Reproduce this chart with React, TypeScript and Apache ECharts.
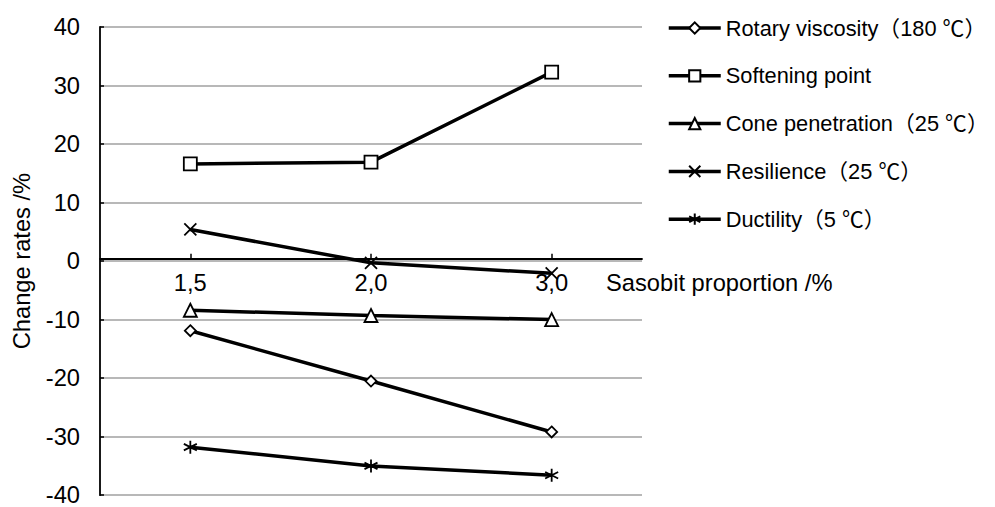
import React, { useEffect, useRef } from "react";
import * as echarts from "echarts";

const categories = ["1,5", "2,0", "3,0"];
const rotaryViscosity = [-11.9, -20.5, -29.2];
const softeningPoint = [16.6, 16.9, 32.3];
const conePenetration = [-8.4, -9.3, -10.0];
const resilience = [5.4, -0.3, -2.1];
const ductility = [-31.8, -35.0, -36.6];

const seriesNames = [
  "Rotary viscosity（180 ℃）",
  "Softening point",
  "Cone penetration（25 ℃）",
  "Resilience（25 ℃）",
  "Ductility（5 ℃）",
];

const FONT = "'Liberation Sans', Arial, 'Noto Sans CJK SC', sans-serif";
const FS = 23.7;
const LFS = 21.8;

export default function App() {
  const ref = useRef<HTMLDivElement>(null);
  useEffect(() => {
    if (!ref.current) return;
    const chart = echarts.init(ref.current, null, { renderer: "svg" });
    const mk = (
      name: string,
      data: number[],
      symbol: string,
      size: number
    ) => ({
      name,
      type: "line",
      data,
      symbol,
      symbolSize: size,
      showSymbol: true,
      lineStyle: { color: "#000", width: 3.5 },
      itemStyle: { color: "#fff", borderColor: "#000", borderWidth: 1.8 },
      z: 3,
    });
    chart.setOption({
      animation: false,
      textStyle: { fontFamily: FONT },
      grid: { left: 100, top: 27, right: 353, bottom: 7, containLabel: false },
      legend: {
        orient: "vertical",
        left: 662,
        top: 11,
        itemWidth: 52,
        itemHeight: 14,
        itemGap: 23.8,
        lineStyle: { width: 3.5, color: "#000" },
        textStyle: { fontSize: LFS, color: "#000", fontFamily: FONT, lineHeight: 24 },
        data: seriesNames,
      },
      xAxis: {
        type: "category",
        data: categories,
        boundaryGap: true,
        position: "bottom",
        offset: -236.5,
        name: "Sasobit proportion /%",
        nameLocation: "end",
        nameGap: -36,
        nameTextStyle: {
          fontSize: FS,
          color: "#000",
          fontFamily: FONT,
          align: "left",
          verticalAlign: "top",
          padding: [13, 0, 0, 0],
        },
        axisLine: { onZero: false, lineStyle: { color: "#000", width: 1.8 } },
        axisTick: { show: true, inside: true, alignWithLabel: true, length: 5, lineStyle: { color: "#000", width: 1.5 } },
        axisLabel: { fontSize: FS, color: "#000", margin: 12, fontFamily: FONT },
        splitLine: { show: false },
      },
      yAxis: {
        type: "value",
        min: -40,
        max: 40,
        interval: 10,
        name: "Change rates /%",
        nameLocation: "middle",
        nameGap: 66,
        nameRotate: 90,
        nameTextStyle: { fontSize: FS, color: "#000", fontFamily: FONT },
        axisLine: { show: true, lineStyle: { color: "#000", width: 1.8 } },
        axisTick: { show: true, inside: true, length: 4, lineStyle: { color: "#000", width: 1.5 } },
        axisLabel: { fontSize: FS, color: "#000", margin: 20, fontFamily: FONT },
        splitLine: { show: true, lineStyle: { color: "#a0a0a0", width: 1.5 } },
      },
      series: [
        mk(seriesNames[0], rotaryViscosity, "diamond", 11),
        mk(seriesNames[1], softeningPoint, "rect", 13),
        mk(seriesNames[2], conePenetration, "triangle", 13),
        mk(seriesNames[3], resilience, "path://M0,0L10,10M10,0L0,10", 12),
        mk(seriesNames[4], ductility, "path://M5,0L5,10M0.7,2.5L9.3,7.5M9.3,2.5L0.7,7.5", 13),
      ],
    });
    return () => chart.dispose();
  }, []);
  return (
    <div
      ref={ref}
      style={{ position: "absolute", left: 0, top: 0, width: 995, height: 507 }}
    />
  );
}
